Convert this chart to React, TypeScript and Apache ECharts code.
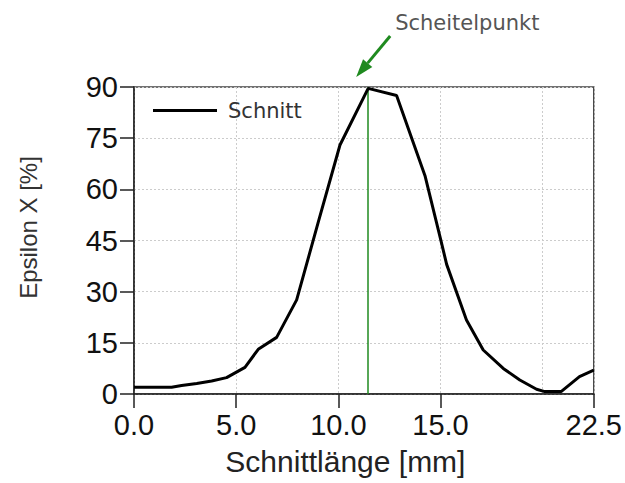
import React, { useEffect, useRef } from "react";
import * as echarts from "echarts";

// Schnittlänge [mm]
const xValues = [0, 1.84, 2.33, 3.07, 3.8, 4.53, 5.43, 6.08, 6.98, 7.96, 9.0, 10.08, 11.46, 12.85, 14.24, 15.0, 15.3, 16.27, 17.09, 18.07, 18.88, 19.7, 20.1, 20.9, 21.8, 22.5];
// Epsilon X [%]
const yValues = [2, 2, 2.5, 3.1, 3.8, 4.8, 7.8, 13.1, 16.6, 27.6, 50, 73, 89.6, 87.5, 64, 45.5, 38, 21.7, 12.9, 7.5, 4.1, 1.4, 0.7, 0.7, 5.1, 7.0];
const xTickLabels = [0, 5, 10, 15, 22.5];
const seriesName = "Schnitt";
const peakLabel = "Scheitelpunkt";
const xName = "Schnittlänge [mm]";
const yName = "Epsilon X [%]";

const GREEN = "#1f8a1f";
const AXIS_FONT = "'Liberation Sans', Arial, sans-serif";
const NOTE_FONT = "'DejaVu Sans', Verdana, sans-serif";

export default function App() {
  const ref = useRef<HTMLDivElement>(null);
  useEffect(() => {
    if (!ref.current) return;
    const chart = echarts.init(ref.current, null, { renderer: "svg" });
    const data = xValues.map((x, i) => [x, yValues[i]]);
    let peakIdx = 0;
    yValues.forEach((v, i) => {
      if (v > yValues[peakIdx]) peakIdx = i;
    });
    const peakX = xValues[peakIdx];

    chart.setOption({
      animation: false,
      backgroundColor: "#fff",
      grid: {
        left: 134,
        right: 31,
        top: 87,
        bottom: 89,
        show: true,
        borderColor: "#444",
        borderWidth: 1.5,
        backgroundColor: "transparent",
      },
      legend: {
        data: [{ name: seriesName, icon: "rect" }],
        left: 153,
        top: 100,
        padding: 0,
        itemWidth: 64,
        itemHeight: 3,
        itemStyle: { color: "#000" },
        textStyle: {
          fontFamily: NOTE_FONT,
          fontSize: 21,
          color: "#333",
          padding: [0, 0, 0, 6],
        },
      },
      xAxis: [
        {
          type: "value",
          min: 0,
          max: 22.5,
          name: xName,
          nameLocation: "middle",
          nameGap: 52,
          nameTextStyle: {
            fontFamily: AXIS_FONT,
            fontSize: 30,
            color: "#222",
            padding: [0, 37, 0, 0],
          },
          axisLine: { onZero: false, lineStyle: { color: "#222", width: 1.5 } },
          axisTick: {
            show: true,
            length: 14,
            inside: false,
            customValues: xTickLabels,
            lineStyle: { color: "#222", width: 1.5 },
          },
          axisLabel: {
            customValues: xTickLabels,
            margin: 16,
            fontFamily: AXIS_FONT,
            fontSize: 29,
            color: "#111",
            formatter: (v: number) => v.toFixed(1),
          },
          splitLine: { show: false },
        },
        {
          type: "value",
          min: 0,
          max: 22.5,
          interval: 5,
          show: true,
          axisLine: { show: false },
          axisTick: { show: false },
          axisLabel: { show: false },
          splitLine: { show: true, lineStyle: { color: "#ccc", type: [2, 2], width: 1 } },
        },
      ],
      yAxis: {
        type: "value",
        min: 0,
        max: 90,
        interval: 15,
        name: yName,
        nameLocation: "middle",
        nameGap: 94,
        nameTextStyle: {
          fontFamily: AXIS_FONT,
          fontSize: 24,
          color: "#333",
          padding: [0, 0, 0, 26],
        },
        axisLine: { show: true, onZero: false, lineStyle: { color: "#222", width: 1.5 } },
        axisTick: { show: true, length: 14, inside: false, lineStyle: { color: "#222", width: 1.5 } },
        axisLabel: {
          margin: 16,
          fontFamily: AXIS_FONT,
          fontSize: 29,
          color: "#111",
        },
        splitLine: { show: true, lineStyle: { color: "#ccc", type: [2, 2], width: 1 } },
      },
      series: [
        {
          name: seriesName,
          type: "line",
          xAxisIndex: 0,
          data,
          symbol: "none",
          showSymbol: false,
          lineStyle: { color: "#000", width: 3 },
          itemStyle: { color: "#000" },
          z: 3,
          markLine: {
            silent: true,
            symbol: ["none", "none"],
            label: { show: false },
            lineStyle: { color: GREEN, width: 1.5, type: "solid" },
            data: [{ xAxis: peakX }],
            z: 2,
          },
        },
      ],
    });

    const tipBase = chart.convertToPixel({ gridIndex: 0 }, [peakX, 90]) as number[];
    const tip = [tipBase[0] - 12, tipBase[1] - 10];
    const tail = [tip[0] + 34, tip[1] - 41];
    const dx = tail[0] - tip[0];
    const dy = tail[1] - tip[1];
    const len = Math.sqrt(dx * dx + dy * dy);
    const ux = dx / len;
    const uy = dy / len;
    const headLen = 18;
    const halfW = 6;
    const bx = tip[0] + ux * headLen;
    const by = tip[1] + uy * headLen;
    const px = -uy;
    const py = ux;

    chart.setOption({
      graphic: [
        {
          type: "line",
          shape: { x1: tail[0], y1: tail[1], x2: bx, y2: by },
          style: { stroke: GREEN, lineWidth: 3 },
          silent: true,
        },
        {
          type: "polygon",
          shape: {
            points: [
              [tip[0], tip[1]],
              [bx + px * halfW, by + py * halfW],
              [bx - px * halfW, by - py * halfW],
            ],
          },
          style: { fill: GREEN },
          silent: true,
        },
        {
          type: "text",
          x: tail[0] + 5,
          y: tail[1] - 13,
          style: {
            text: peakLabel,
            fontFamily: NOTE_FONT,
            fontSize: 21,
            fill: "#555",
            verticalAlign: "middle",
            align: "left",
          },
          silent: true,
        },
      ],
    });

    return () => chart.dispose();
  }, []);
  return (
    <div
      ref={ref}
      style={{ position: "fixed", left: 0, top: 0, width: 625, height: 483 }}
    />
  );
}
